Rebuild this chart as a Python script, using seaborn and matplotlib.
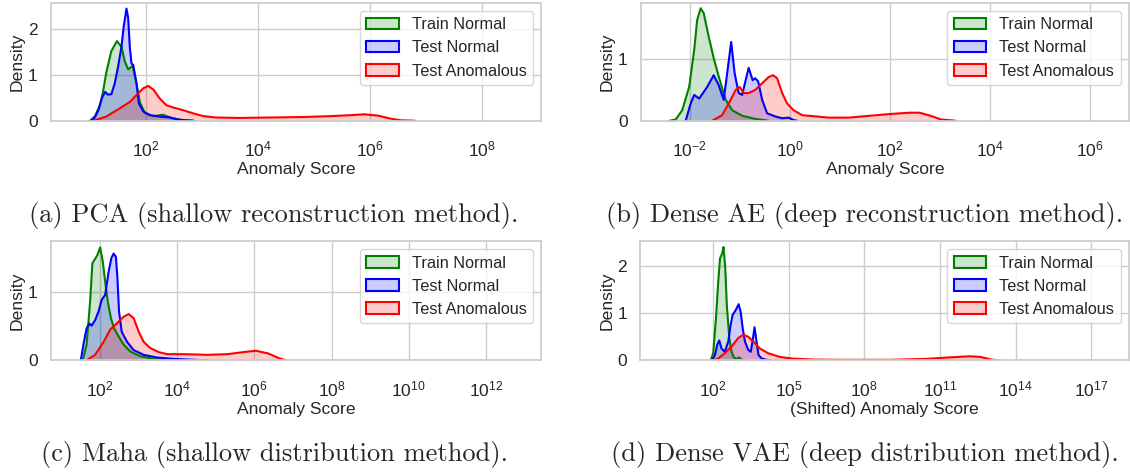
import numpy as np
import matplotlib
matplotlib.use("Agg")
import matplotlib.pyplot as plt
import seaborn as sns
from matplotlib.patches import Patch
from matplotlib.colors import to_rgba
from matplotlib.ticker import NullLocator

# series shared by every panel
series_names = ["Train Normal", "Test Normal", "Test Anomalous"]
series_colors = ["green", "blue", "red"]

# (a) PCA -- x as log10(score), y as density
pca_train_exp = [1.01, 1.10, 1.19, 1.24, 1.30, 1.39, 1.49, 1.57, 1.63, 1.69, 1.77, 1.84, 1.90, 1.99, 2.14, 2.31, 2.49, 2.67, 2.85]
pca_train_den = [0.0, 0.10, 0.35, 0.62, 1.05, 1.52, 1.74, 1.62, 1.30, 1.12, 1.20, 0.80, 0.40, 0.17, 0.10, 0.13, 0.05, 0.01, 0.0]
pca_testn_exp = [1.04, 1.10, 1.16, 1.22, 1.28, 1.33, 1.39, 1.45, 1.51, 1.57, 1.61, 1.66, 1.69, 1.72, 1.75, 1.78, 1.84, 1.88, 1.96, 2.08, 2.25, 2.43, 2.61, 2.85]
pca_testn_den = [0.0, 0.08, 0.23, 0.49, 0.63, 0.57, 0.58, 0.81, 1.18, 1.61, 2.05, 2.45, 2.25, 1.60, 1.25, 1.22, 0.81, 0.38, 0.20, 0.12, 0.09, 0.07, 0.02, 0.0]
pca_anom_exp = [1.07, 1.30, 1.54, 1.72, 1.87, 1.96, 2.05, 2.14, 2.25, 2.37, 2.49, 2.67, 2.85, 3.03, 3.26, 3.67, 4.20, 4.80, 5.30, 5.64, 5.90, 6.15, 6.35, 6.54, 6.80]
pca_anom_den = [0.0, 0.09, 0.27, 0.41, 0.60, 0.71, 0.76, 0.68, 0.49, 0.34, 0.29, 0.23, 0.16, 0.10, 0.07, 0.06, 0.07, 0.08, 0.10, 0.12, 0.14, 0.11, 0.05, 0.01, 0.0]

# (b) Dense AE
ae_train_exp = [-2.40, -2.28, -2.15, -2.01, -1.91, -1.85, -1.78, -1.72, -1.62, -1.52, -1.42, -1.28, -1.15, -0.95, -0.69, -0.42]
ae_train_den = [0.0, 0.02, 0.17, 0.55, 1.15, 1.64, 1.83, 1.75, 1.37, 1.02, 0.72, 0.34, 0.17, 0.08, 0.03, 0.0]
ae_testn_exp = [-2.08, -1.98, -1.91, -1.81, -1.65, -1.52, -1.42, -1.32, -1.25, -1.17, -1.10, -1.02, -0.95, -0.88, -0.82, -0.74, -0.69, -0.63, -0.55, -0.45, -0.29, -0.15, -0.02, 0.08, 0.15]
ae_testn_den = [0.0, 0.28, 0.42, 0.36, 0.55, 0.74, 0.58, 0.34, 0.77, 1.28, 0.77, 0.45, 0.42, 0.66, 0.86, 0.66, 0.69, 0.64, 0.34, 0.12, 0.07, 0.04, 0.05, 0.01, 0.0]
ae_anom_exp = [-1.55, -1.35, -1.18, -1.08, -1.00, -0.92, -0.82, -0.69, -0.55, -0.42, -0.33, -0.25, -0.15, -0.05, 0.08, 0.25, 0.52, 0.78, 1.18, 1.60, 2.03, 2.39, 2.60, 2.82, 3.03, 3.32]
ae_anom_den = [0.0, 0.09, 0.34, 0.50, 0.55, 0.45, 0.45, 0.50, 0.61, 0.71, 0.74, 0.69, 0.45, 0.28, 0.17, 0.09, 0.07, 0.05, 0.05, 0.08, 0.11, 0.13, 0.13, 0.08, 0.02, 0.0]

# (c) Maha
maha_train_exp = [1.55, 1.65, 1.74, 1.80, 1.87, 1.93, 2.00, 2.07, 2.13, 2.20, 2.28, 2.36, 2.48, 2.61, 2.78, 3.04, 3.39, 3.70]
maha_train_den = [0.0, 0.23, 0.86, 1.43, 1.49, 1.55, 1.66, 1.45, 1.16, 0.86, 0.62, 0.47, 0.35, 0.23, 0.13, 0.06, 0.02, 0.0]
maha_testn_exp = [1.50, 1.58, 1.65, 1.72, 1.78, 1.87, 1.96, 2.04, 2.13, 2.22, 2.29, 2.35, 2.41, 2.45, 2.49, 2.56, 2.70, 2.87, 3.13, 3.48, 3.92, 4.52, 4.80]
maha_testn_den = [0.0, 0.27, 0.47, 0.54, 0.51, 0.59, 0.72, 0.89, 0.96, 1.30, 1.50, 1.57, 1.52, 1.20, 0.72, 0.42, 0.27, 0.15, 0.08, 0.04, 0.02, 0.005, 0.0]
maha_anom_exp = [1.65, 1.87, 2.09, 2.26, 2.43, 2.61, 2.74, 2.87, 3.00, 3.13, 3.30, 3.52, 3.74, 4.17, 4.78, 5.30, 5.71, 6.04, 6.36, 6.64, 6.82]
maha_anom_den = [0.0, 0.08, 0.27, 0.45, 0.54, 0.64, 0.68, 0.62, 0.42, 0.27, 0.18, 0.12, 0.09, 0.09, 0.08, 0.09, 0.12, 0.14, 0.10, 0.03, 0.0]

# (d) Dense VAE (shifted score)
vae_train_exp = [1.90, 2.00, 2.11, 2.20, 2.27, 2.36, 2.41, 2.48, 2.54, 2.64, 2.73, 2.82, 2.93, 3.03, 3.13, 3.30]
vae_train_den = [0.0, 0.15, 0.89, 1.67, 2.16, 2.27, 2.40, 1.95, 1.17, 0.47, 0.18, 0.06, 0.03, 0.06, 0.01, 0.0]
vae_testn_exp = [1.95, 2.07, 2.16, 2.24, 2.33, 2.46, 2.60, 2.69, 2.77, 2.90, 3.01, 3.09, 3.17, 3.26, 3.39, 3.49, 3.56, 3.64, 3.72, 3.80, 3.92, 4.12, 4.30]
vae_testn_den = [0.0, 0.11, 0.33, 0.42, 0.25, 0.18, 0.40, 0.75, 0.96, 1.07, 1.19, 1.03, 0.68, 0.40, 0.22, 0.18, 0.40, 0.70, 0.40, 0.11, 0.04, 0.01, 0.0]
vae_anom_exp = [2.00, 2.20, 2.46, 2.73, 2.99, 3.19, 3.39, 3.59, 3.85, 4.18, 4.65, 5.17, 5.97, 7.03, 9.05, 10.48, 11.34, 12.19, 12.61, 13.04, 13.30]
vae_anom_den = [0.0, 0.04, 0.15, 0.29, 0.47, 0.54, 0.50, 0.40, 0.25, 0.15, 0.07, 0.035, 0.015, 0.01, 0.01, 0.03, 0.06, 0.085, 0.07, 0.015, 0.0]

captions = [
    "(a) PCA (shallow reconstruction method).",
    "(b) Dense AE (deep reconstruction method).",
    "(c) Maha (shallow distribution method).",
    "(d) Dense VAE (deep distribution method).",
]
xlabels = ["Anomaly Score", "Anomaly Score", "Anomaly Score", "(Shifted) Anomaly Score"]

panels = [
    [(pca_train_exp, pca_train_den), (pca_testn_exp, pca_testn_den), (pca_anom_exp, pca_anom_den)],
    [(ae_train_exp, ae_train_den), (ae_testn_exp, ae_testn_den), (ae_anom_exp, ae_anom_den)],
    [(maha_train_exp, maha_train_den), (maha_testn_exp, maha_testn_den), (maha_anom_exp, maha_anom_den)],
    [(vae_train_exp, vae_train_den), (vae_testn_exp, vae_testn_den), (vae_anom_exp, vae_anom_den)],
]

# layout: axes rectangles, limits and tick exponents
rects = [
    [0.0449, 0.7448, 0.4339, 0.2495],
    [0.5670, 0.7448, 0.4321, 0.2495],
    [0.0449, 0.2383, 0.4339, 0.2522],
    [0.5667, 0.2383, 0.4324, 0.2522],
]
xlims = [(0.31, 9.05), (-2.98, 6.79), (0.72, 13.43), (-0.89, 18.5)]
ylims = [2.58, 1.92, 1.755, 2.53]
xtick_exps = [[2, 4, 6, 8], [-2, 0, 2, 4, 6], [2, 4, 6, 8, 10, 12], [2, 5, 8, 11, 14, 17]]
ytick_vals = [[0, 1, 2], [0, 1], [0, 1], [0, 1, 2]]
caption_pos = [(0.2425, 0.531), (0.765, 0.531), (0.2425, 0.0254), (0.765, 0.0254)]

sns.set_theme(style="whitegrid")
plt.rcParams["font.family"] = ["Liberation Sans", "DejaVu Sans"]
plt.rcParams["mathtext.fontset"] = "custom"
plt.rcParams["mathtext.rm"] = "Liberation Sans"
plt.rcParams["mathtext.it"] = "Liberation Sans:italic"
plt.rcParams["mathtext.bf"] = "Liberation Sans:bold"
plt.rcParams["xtick.labelsize"] = 12.6
plt.rcParams["ytick.labelsize"] = 12.6
plt.rcParams["axes.labelsize"] = 12.6
plt.rcParams["legend.fontsize"] = 11.7
plt.rcParams["xtick.major.pad"] = 7.5
plt.rcParams["axes.labelpad"] = 2.0

fig = plt.figure(figsize=(11.3, 4.73), dpi=100)

for i, curves in enumerate(panels):
    ax = fig.add_axes(rects[i])
    ax.set_xscale("log")
    for (exps, dens), color in zip(curves, series_colors):
        xs = np.power(10.0, np.array(exps))
        ax.fill_between(xs, dens, color=color, alpha=0.2, linewidth=0)
        sns.lineplot(x=xs, y=dens, color=color, linewidth=1.5, ax=ax,
                     estimator=None, sort=False)
    ax.set_xlim(10.0 ** xlims[i][0], 10.0 ** xlims[i][1])
    ax.set_ylim(0, ylims[i])
    ax.set_xticks([10.0 ** k for k in xtick_exps[i]])
    ax.xaxis.set_minor_locator(NullLocator())
    ax.set_yticks(ytick_vals[i])
    ax.set_xlabel(xlabels[i])
    ax.set_ylabel("Density")
    handles = [Patch(facecolor=to_rgba(c, 0.2), edgecolor=c, linewidth=1.5, label=n)
               for n, c in zip(series_names, series_colors)]
    ax.legend(handles=handles, loc="upper right")
    cx, cy = caption_pos[i]
    fig.text(cx, cy, captions[i], ha="center", va="baseline",
             family="cmr10", fontsize=19)

fig.savefig("out.png", dpi=100)
